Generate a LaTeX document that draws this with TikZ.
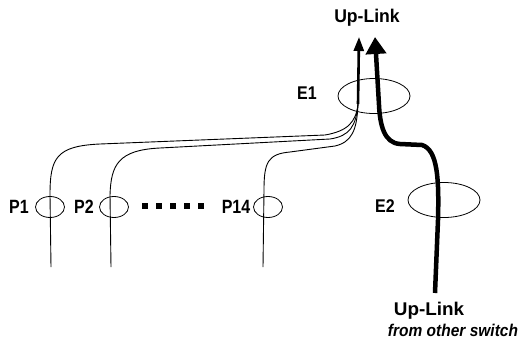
\documentclass[tikz,border=0pt]{standalone}
\usepackage{fontspec}
\setmainfont{Liberation Sans}
\usetikzlibrary{arrows.meta,shapes.geometric}
\begin{document}
\begin{tikzpicture}[x=1pt,y=-1pt,
  lbl/.style={font=\fontsize{16}{18}\selectfont\bfseries, inner sep=0pt},
  port/.style={draw, ellipse, minimum width=29pt, minimum height=21pt, inner sep=0pt, line width=0.8pt},
  big/.style={draw, ellipse, minimum width=72pt, minimum height=35pt, inner sep=0pt, line width=0.8pt},
  wire/.style={line width=0.9pt},
  dot/.style={fill, minimum size=6pt, inner sep=0pt}]
\useasboundingbox (0,0) rectangle (519,340);
% labels
\node[lbl] (up) at (367,18) {\scalebox{1.1}[1.15]{Up-Link}};
\node[lbl] (le1) at (307,93) {\scalebox{1}[1.15]{E1}};
\node[lbl] (le2) at (385,206) {\scalebox{1}[1.15]{E2}};
\node[lbl] (lp1) at (19,207) {\scalebox{1}[1.2]{P1}};
\node[lbl] (lp2) at (84,207) {\scalebox{1}[1.2]{P2}};
\node[lbl] (lp14) at (236,207) {\scalebox{1}[1.2]{P14}};
\node[lbl] (up2) at (429,311) {\scalebox{1.18}[1.15]{Up-Link}};
\node[lbl, font=\fontsize{15.5}{18}\selectfont\bfseries\itshape] (from) at (453,330) {\scalebox{1}[1.1]{from other switch}};
% ellipses
\node[big] (e1) at (374,96) {};
\node[big] (e2) at (444,200) {};
\node[port] (p1) at (50,207) {};
\node[port] (p2) at (114,207) {};
\node[port] (p14) at (268,207) {};
% dots
\foreach \i in {0,...,4} \node[dot] (d\i) at (145+14*\i,206) {};
% coordinates
\coordinate (b1) at (51,267);
\coordinate (b2) at (111,267);
\coordinate (b14) at (263,267);
\coordinate (m) at (358,104);
\coordinate (t1) at (359,37);
\coordinate (b0) at (435,293);
\coordinate (t2) at (375,37);
% thin wires
\draw[wire] (b1) -- (50,195) .. controls (50,158) and (56,146) .. (100,144) -- (325,135) .. controls (348,131) and (356,122) .. (m);
\draw[wire] (b2) -- (110,195) .. controls (111,165) and (118,150) .. (160,148) -- (330,139) .. controls (350,136) and (356,126) .. (m);
\draw[wire] (b14) -- (264,190) .. controls (264,162) and (268,154) .. (290,152) -- (335,146) .. controls (352,142) and (357,130) .. (m);
\draw[line width=2.6pt, -{Triangle[width=10pt,length=14pt]}] (m) -- (t1);
% thick uplink
\draw[line width=4.5pt, line join=round, -{Triangle[width=20pt,length=17pt]}] (b0) -- (438,220) .. controls (439,180) and (438,150) .. (422,145) -- (400,144) .. controls (384,143) and (380,125) .. (379,105) -- (t2);
\end{tikzpicture}
\end{document}
